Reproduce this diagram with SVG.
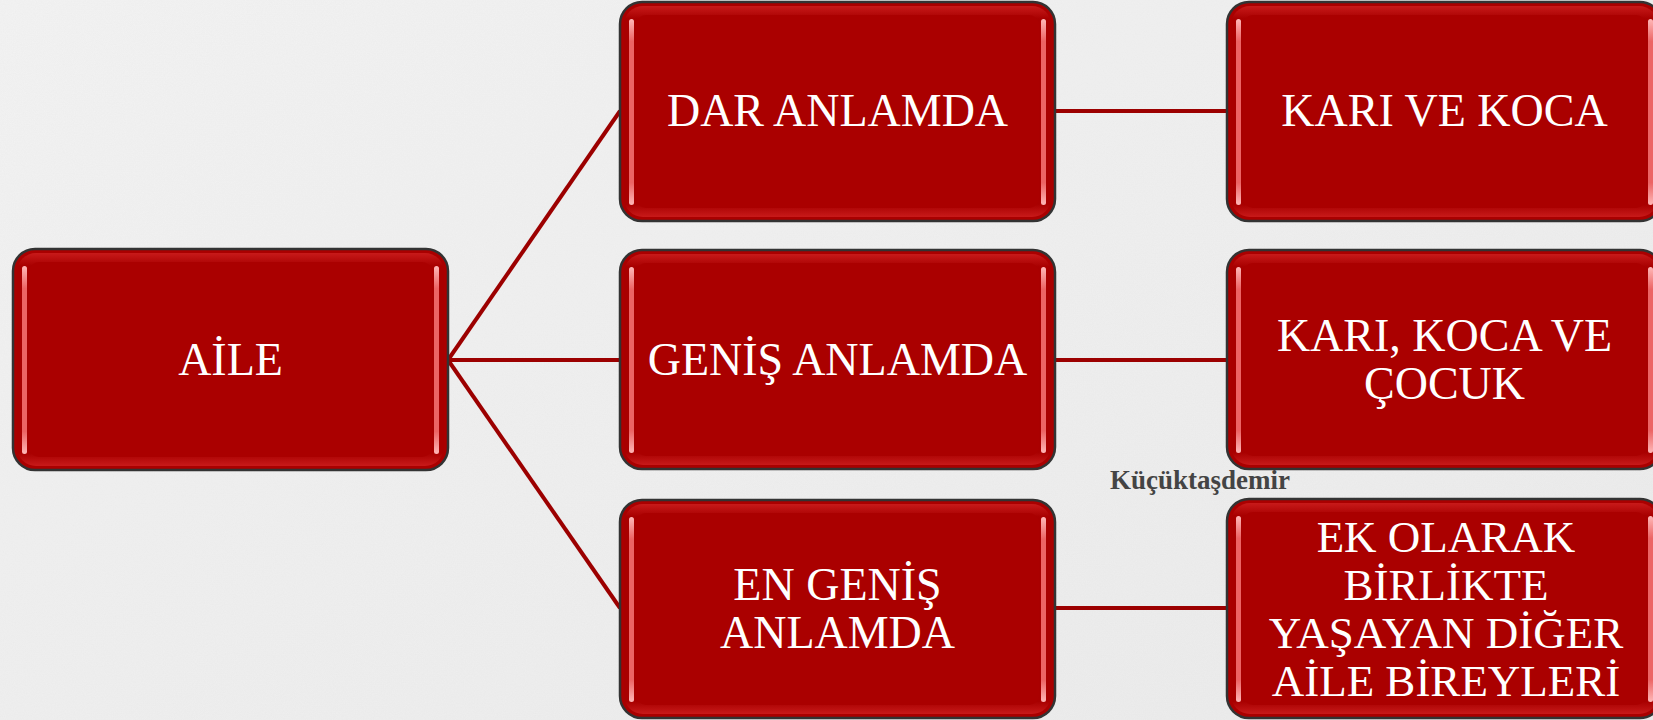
<svg xmlns="http://www.w3.org/2000/svg" width="1653" height="720" viewBox="0 0 1653 720">
  <defs>
    <filter id="paper" x="0" y="0" width="100%" height="100%">
      <feTurbulence type="fractalNoise" baseFrequency="0.9" numOctaves="2" seed="3" result="n"/>
      <feColorMatrix in="n" type="matrix" values="0 0 0 0 0.55  0 0 0 0 0.55  0 0 0 0 0.55  0 0 0 0.12 0" result="c"/>
      <feComposite in="c" in2="SourceGraphic" operator="over"/>
    </filter>
    <linearGradient id="bg" x1="0" y1="0" x2="1" y2="1">
      <stop offset="0" stop-color="#f3f3f3"/>
      <stop offset="1" stop-color="#ebebeb"/>
    </linearGradient>
    <linearGradient id="hl" x1="0" y1="0" x2="0" y2="1">
      <stop offset="0" stop-color="#ffb8b8"/>
      <stop offset="0.12" stop-color="#ec6464"/>
      <stop offset="0.88" stop-color="#ec6464"/>
      <stop offset="1" stop-color="#ffb8b8"/>
    </linearGradient>
    <linearGradient id="edge" x1="0" y1="0" x2="0" y2="1">
      <stop offset="0" stop-color="#c81a1a"/>
      <stop offset="0.06" stop-color="#a80000"/>
      <stop offset="0.94" stop-color="#a80000"/>
      <stop offset="1" stop-color="#c81a1a"/>
    </linearGradient>
  </defs>
  <style>
    .box { fill: #aa0000; stroke: #333333; stroke-width: 2.5; }
    .inner { fill: url(#edge); stroke: none; }
    .fill { fill: #aa0000; }
    .hl { fill: url(#hl); }
    .lbl { font-family: "Liberation Serif", "Times New Roman", serif; font-size: 46px; fill: #ffffff; text-anchor: middle; }
    .lbl45 { font-family: "Liberation Serif", "Times New Roman", serif; font-size: 45px; fill: #ffffff; text-anchor: middle; }
    .con { stroke: #9c0000; stroke-width: 4; fill: none; }
    .wm { font-family: "Liberation Serif", "Times New Roman", serif; font-size: 27px; font-weight: bold; fill: #444444; }
  </style>

  <rect x="0" y="0" width="1653" height="720" fill="url(#bg)" filter="url(#paper)"/>

  <g id="connectors">
    <line class="con" x1="448" y1="360" x2="620" y2="111"/>
    <line class="con" x1="448" y1="360" x2="620" y2="360"/>
    <line class="con" x1="448" y1="360" x2="620" y2="608"/>
    <line class="con" x1="1055" y1="111" x2="1227" y2="111"/>
    <line class="con" x1="1055" y1="360" x2="1227" y2="360"/>
    <line class="con" x1="1055" y1="608" x2="1227" y2="608"/>
  </g>

  <g id="aile">
    <rect class="box" x="13" y="249" width="435" height="221" rx="22"/>
    <rect class="inner" x="17" y="253" width="427" height="213" rx="19"/>
    <rect class="fill" x="29" y="262" width="403" height="195" rx="10"/>
    <rect class="hl" x="22" y="266" width="5" height="188" rx="2.5"/>
    <rect class="hl" x="434" y="266" width="5" height="188" rx="2.5"/>
    <text class="lbl" x="230.5" y="375">AİLE</text>
  </g>

  <g id="dar">
    <rect class="box" x="620" y="2" width="435" height="219" rx="22"/>
    <rect class="inner" x="624" y="6" width="427" height="211" rx="19"/>
    <rect class="fill" x="636" y="15" width="403" height="193" rx="10"/>
    <rect class="hl" x="629" y="19" width="5" height="186" rx="2.5"/>
    <rect class="hl" x="1041" y="19" width="5" height="186" rx="2.5"/>
    <text class="lbl" x="837.5" y="126">DAR ANLAMDA</text>
  </g>

  <g id="genis">
    <rect class="box" x="620" y="250" width="435" height="219" rx="22"/>
    <rect class="inner" x="624" y="254" width="427" height="211" rx="19"/>
    <rect class="fill" x="636" y="263" width="403" height="193" rx="10"/>
    <rect class="hl" x="629" y="267" width="5" height="186" rx="2.5"/>
    <rect class="hl" x="1041" y="267" width="5" height="186" rx="2.5"/>
    <text class="lbl" x="837.5" y="375">GENİŞ ANLAMDA</text>
  </g>

  <g id="engenis">
    <rect class="box" x="620" y="500" width="435" height="218" rx="22"/>
    <rect class="inner" x="624" y="504" width="427" height="210" rx="19"/>
    <rect class="fill" x="636" y="513" width="403" height="192" rx="10"/>
    <rect class="hl" x="629" y="517" width="5" height="185" rx="2.5"/>
    <rect class="hl" x="1041" y="517" width="5" height="185" rx="2.5"/>
    <text class="lbl" x="837.5" y="600">EN GENİŞ</text>
    <text class="lbl" x="837.5" y="648">ANLAMDA</text>
  </g>

  <g id="karikoca">
    <rect class="box" x="1227" y="2" width="435" height="219" rx="22"/>
    <rect class="inner" x="1231" y="6" width="427" height="211" rx="19"/>
    <rect class="fill" x="1243" y="15" width="403" height="193" rx="10"/>
    <rect class="hl" x="1236" y="19" width="5" height="186" rx="2.5"/>
    <rect class="hl" x="1648" y="19" width="5" height="186" rx="2.5"/>
    <text class="lbl" x="1444.5" y="126">KARI VE KOCA</text>
  </g>

  <g id="karikocacocuk">
    <rect class="box" x="1227" y="250" width="435" height="219" rx="22"/>
    <rect class="inner" x="1231" y="254" width="427" height="211" rx="19"/>
    <rect class="fill" x="1243" y="263" width="403" height="193" rx="10"/>
    <rect class="hl" x="1236" y="267" width="5" height="186" rx="2.5"/>
    <rect class="hl" x="1648" y="267" width="5" height="186" rx="2.5"/>
    <text class="lbl" x="1444.5" y="351">KARI, KOCA VE</text>
    <text class="lbl" x="1444.5" y="399">ÇOCUK</text>
  </g>

  <g id="diger">
    <rect class="box" x="1227" y="499" width="435" height="219" rx="22"/>
    <rect class="inner" x="1231" y="503" width="427" height="211" rx="19"/>
    <rect class="fill" x="1243" y="512" width="403" height="193" rx="10"/>
    <rect class="hl" x="1236" y="516" width="5" height="186" rx="2.5"/>
    <rect class="hl" x="1648" y="516" width="5" height="186" rx="2.5"/>
    <text class="lbl45" x="1446" y="552">EK OLARAK</text>
    <text class="lbl45" x="1446" y="600">BİRLİKTE</text>
    <text class="lbl45" x="1446" y="648">YAŞAYAN DİĞER</text>
    <text class="lbl45" x="1446" y="696">AİLE BİREYLERİ</text>
  </g>

  <text class="wm" x="1110" y="489">Küçüktaşdemir</text>
</svg>
